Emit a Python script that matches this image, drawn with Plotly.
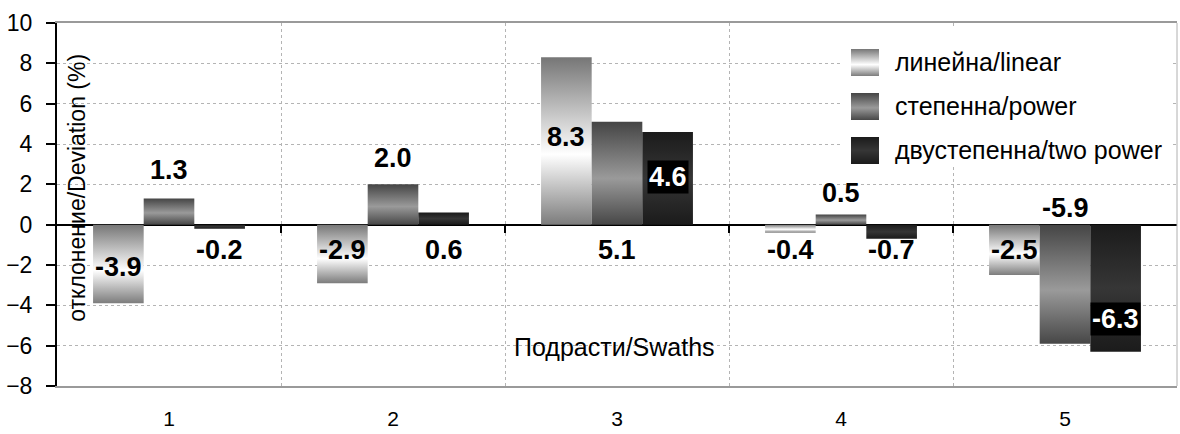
import plotly.graph_objects as go

# Swath numbers and deviation (%) for each approximation
categories = [1, 2, 3, 4, 5]
linear = [-3.9, -2.9, 8.3, -0.4, -2.5]
power = [1.3, 2.0, 5.1, 0.5, -5.9]
two_power = [-0.2, 0.6, 4.6, -0.7, -6.3]
series_names = ["линейна/linear", "степенна/power", "двустепенна/two power"]

# Styling / layout (not data)
FONT = "Liberation Sans, Arial, sans-serif"
BAR_W = 0.226
gradients = [
    [[0, "#7c7c7c"], [0.42, "#ffffff"], [1, "#767676"]],
    [[0, "#474747"], [0.45, "#9a9a9a"], [1, "#454545"]],
    [[0, "#1b1b1b"], [0.5, "#363636"], [1, "#1b1b1b"]],
]
# vertical placement of each value label, in axis units
label_y = [
    [-2.1, -1.25, 4.35, -1.25, -1.25],
    [2.7, 3.3, -1.25, 1.55, 0.85],
    [-1.25, -1.25, 2.35, -1.25, -4.7],
]
label_boxed = [
    [False] * 5,
    [False] * 5,
    [False, False, True, False, True],
]

series = [linear, power, two_power]
fig = go.Figure()

for k, values in enumerate(series):
    for i, (c, v) in enumerate(zip(categories, values)):
        x0 = c + (k - 1) * BAR_W - BAR_W / 2
        x1 = x0 + BAR_W
        fig.add_trace(go.Scatter(
            x=[x0, x1, x1, x0, x0], y=[0, 0, v, v, 0],
            mode="lines", line=dict(width=0), fill="toself",
            fillgradient=dict(type="vertical", colorscale=gradients[k]),
            name=series_names[k], showlegend=False, hoverinfo="skip",
        ))
        boxed = label_boxed[k][i]
        fig.add_annotation(
            x=c + (k - 1) * BAR_W, y=label_y[k][i], xref="x", yref="y",
            text=f"{v:.1f}", showarrow=False,
            font=dict(family=FONT, size=27, weight=700,
                      color="white" if boxed else "black"),
            bgcolor="black" if boxed else None, borderpad=1,
        )

# Legend: white panel and gradient swatches on a pixel-scaled overlay axis
fig.add_trace(go.Scatter(
    x=[840, 1172, 1172, 840, 840], y=[26, 26, 167, 167, 26],
    xaxis="x2", yaxis="y2", mode="lines", line=dict(width=0), fill="toself",
    fillcolor="white", showlegend=False, hoverinfo="skip",
))
for k, name in enumerate(series_names):
    top = 49 + 44 * k
    fig.add_trace(go.Scatter(
        x=[851, 879, 879, 851, 851], y=[top, top, top + 27, top + 27, top],
        xaxis="x2", yaxis="y2", mode="lines", line=dict(width=0), fill="toself",
        fillgradient=dict(type="vertical", colorscale=gradients[k]),
        showlegend=False, hoverinfo="skip",
    ))
    fig.add_annotation(x=893, y=top + 13, xref="x2", yref="y2", text=name,
                       showarrow=False, xanchor="left",
                       font=dict(family=FONT, size=25, color="black"))

# Axis titles drawn inside the plot area
fig.add_annotation(x=0.005, y=0.545, xref="paper", yref="paper",
                   text="отклонение/Deviation (%)", textangle=-90, showarrow=False,
                   font=dict(family=FONT, size=23, color="black"))
fig.add_annotation(x=0.498, y=0.063, xref="paper", yref="paper",
                   text="Подрасти/Swaths", showarrow=False,
                   font=dict(family=FONT, size=25, color="black"))

# right border of the plot area
fig.add_shape(type="line", xref="paper", yref="paper", x0=1, x1=1, y0=0, y1=1,
              line=dict(color="#b0b0b0", width=1))

fig.update_layout(
    width=1180, height=434,
    margin=dict(l=57, r=3, t=23, b=48),
    paper_bgcolor="white", plot_bgcolor="white",
    showlegend=False,
    font=dict(family=FONT, color="black"),
    xaxis=dict(
        range=[0.5, 5.5], tickvals=categories, ticktext=[str(c) for c in categories],
        ticks="", showgrid=False, zeroline=False, automargin=False,
        showline=True, linecolor="#9a9a9a", linewidth=2, mirror=True,
        tickfont=dict(family=FONT, size=21), ticklabelstandoff=13,
        minor=dict(tickvals=[1.5, 2.5, 3.5, 4.5], showgrid=True,
                   gridcolor="#b4b4b4", griddash="dot", gridwidth=1, ticks=""),
    ),
    yaxis=dict(
        range=[-8, 10], tickvals=list(range(-8, 11, 2)), ticks="outside",
        ticklen=9, tickwidth=1.5, tickcolor="black", automargin=False,
        showline=True, linecolor="black", linewidth=2,
        showgrid=True, gridcolor="#b4b4b4", griddash="dot", gridwidth=1,
        zeroline=True, zerolinecolor="black", zerolinewidth=2,
        tickfont=dict(family=FONT, size=23), ticklabelstandoff=9,
    ),
    # category separator ticks along the zero line
    xaxis3=dict(
        overlaying="x", anchor="free", position=8 / 18, range=[0.5, 5.5],
        tickvals=[1.5, 2.5, 3.5, 4.5], ticks="outside", ticklen=7, tickwidth=1.5,
        tickcolor="black", showticklabels=False, showgrid=False, zeroline=False,
        showline=False, automargin=False,
    ),
    # pixel-scaled overlay for the legend panel
    xaxis2=dict(overlaying="x", range=[57, 1177], visible=False, fixedrange=True),
    yaxis2=dict(overlaying="y", range=[386, 23], visible=False, fixedrange=True),
)

# invisible trace so xaxis3 is drawn
fig.add_trace(go.Scatter(x=[1], y=[0], xaxis="x3", mode="markers",
                         marker=dict(opacity=0), showlegend=False, hoverinfo="skip"))

fig.write_html("out.html")
